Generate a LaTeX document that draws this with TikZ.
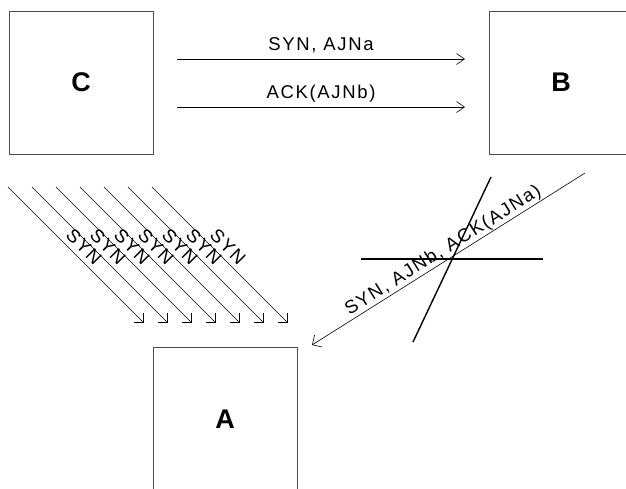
\documentclass[tikz,border=0pt]{standalone}
\usepackage{fontspec}
\setmainfont{Liberation Sans}
\newfontfamily\lblfont[LetterSpace=9]{Liberation Sans}
\usetikzlibrary{arrows.meta}
\begin{document}
\begin{tikzpicture}[x=1pt,y=-1pt,
  box/.style={draw=black!70, line width=0.9pt, minimum width=144pt, minimum height=143pt, inner sep=0pt, font=\fontsize{27}{27}\selectfont\bfseries},
  msg/.style={draw, line width=0.6pt, -{Straight Barb[length=8pt,width=11pt]}},
  dmsg/.style={draw, line width=0.6pt, -{Straight Barb[length=7pt,width=14pt]}},
  lbl/.style={font=\lblfont\fontsize{18.5}{18.5}\selectfont, sloped, anchor=base, inner sep=0pt},
  cross/.style={draw, line width=1.4pt}]
\useasboundingbox (0,0) rectangle (626,488);
\node[box] (C) at (81,82.5) {C};
\node[box] (B) at (561,82.5) {B};
\node[box] (A) at (225,419) {A};
% C -> B messages
\coordinate (c1) at (177,59); \coordinate (b1) at (465,59);
\coordinate (c2) at (177,107); \coordinate (b2) at (465,107);
\draw[msg] (c1) -- node[lbl, yshift=9pt]{SYN, AJNa} (b1);
\draw[msg] (c2) -- node[lbl, yshift=9pt]{ACK(AJNb)} (b2);
% SYN flood towards A
\foreach \i in {0,...,6} {
  \coordinate (s\i) at ({8+24*\i},187);
  \coordinate (e\i) at ({144+24*\i},323);
  \draw[dmsg] (s\i) -- node[lbl, yshift=5pt]{SYN} (e\i);
}
% B -> A message
\coordinate (bs) at (585,173); \coordinate (be) at (312,345);
\draw[dmsg] (bs) -- node[lbl, yshift=5pt]{SYN, AJNb, ACK(AJNa)} (be);
% cross
\coordinate (x1) at (361,259); \coordinate (x2) at (543,259);
\coordinate (x3) at (491,177); \coordinate (x4) at (413,342);
\draw[cross] (x1) -- (x2);
\draw[cross] (x3) -- (x4);
\end{tikzpicture}
\end{document}
